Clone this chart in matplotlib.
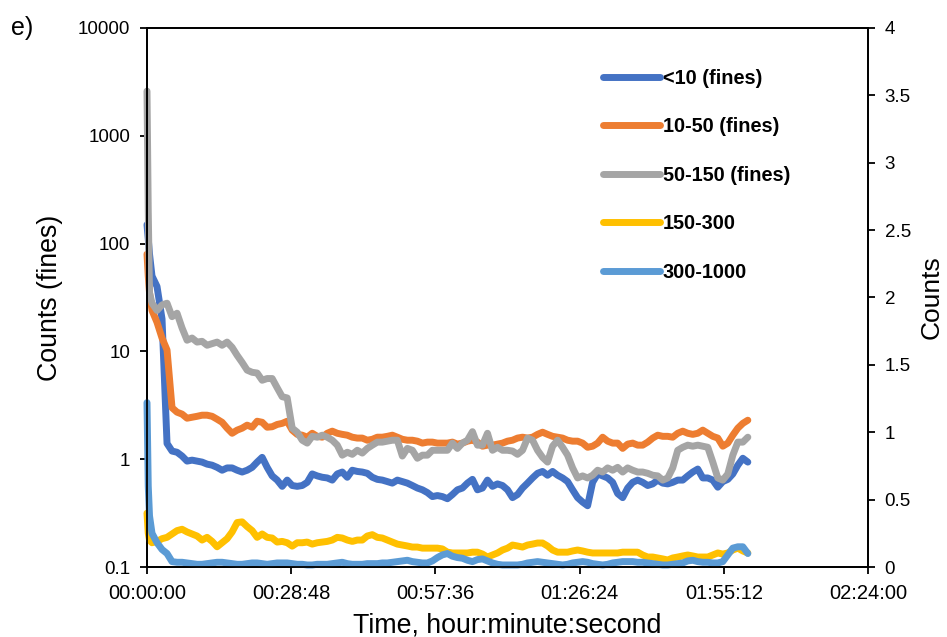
import numpy as np
import matplotlib
matplotlib.use("Agg")
import matplotlib.pyplot as plt
from matplotlib.ticker import FuncFormatter, NullLocator

plt.rcParams['font.family'] = ['Liberation Sans', 'DejaVu Sans']

# sample times in minutes (finer steps right after start-up)
minutes = [0, 0.25, 0.5] + list(range(1, 121))

# fines channels, plotted on the log axis
lt10 = [150, 110, 80, 50, 40, 20, 1.4, 1.19, 1.16, 1.07, 0.96, 0.98, 0.96, 0.94, 0.90, 0.88,
        0.84, 0.79, 0.83, 0.83, 0.79, 0.76, 0.79, 0.84, 0.94, 1.04, 0.84, 0.70, 0.64, 0.56,
        0.64, 0.57, 0.56, 0.57, 0.61, 0.73, 0.70, 0.68, 0.67, 0.64, 0.73, 0.76, 0.68, 0.79,
        0.77, 0.76, 0.74, 0.68, 0.65, 0.64, 0.62, 0.60, 0.64, 0.62, 0.60, 0.57, 0.54, 0.52,
        0.49, 0.45, 0.46, 0.45, 0.43, 0.47, 0.52, 0.54, 0.60, 0.65, 0.52, 0.54, 0.64, 0.56,
        0.59, 0.57, 0.52, 0.44, 0.47, 0.54, 0.60, 0.67, 0.74, 0.77, 0.71, 0.77, 0.71, 0.67,
        0.62, 0.52, 0.44, 0.40, 0.37, 0.61, 0.73, 0.70, 0.67, 0.61, 0.48, 0.44, 0.54, 0.61,
        0.64, 0.61, 0.57, 0.59, 0.64, 0.60, 0.59, 0.61, 0.64, 0.64, 0.70, 0.76, 0.81, 0.67,
        0.67, 0.64, 0.55, 0.62, 0.65, 0.73, 0.88, 1.02, 0.94]
s10_50 = [80, 50, 35, 24, 18.6, 13.3, 10.3, 3.0, 2.73, 2.62, 2.40, 2.45, 2.50, 2.56, 2.56,
          2.50, 2.35, 2.20, 1.94, 1.74, 1.86, 1.94, 2.07, 1.98, 2.25, 2.20, 1.98, 2.0, 2.1,
          2.15, 2.25, 1.86, 1.70, 1.67, 1.60, 1.74, 1.63, 1.60, 1.74, 1.82, 1.74, 1.70, 1.67,
          1.60, 1.57, 1.57, 1.50, 1.53, 1.60, 1.60, 1.63, 1.67, 1.60, 1.53, 1.50, 1.50, 1.47,
          1.41, 1.44, 1.44, 1.41, 1.41, 1.41, 1.44, 1.38, 1.41, 1.47, 1.50, 1.44, 1.32, 1.35,
          1.35, 1.38, 1.41, 1.47, 1.50, 1.57, 1.60, 1.57, 1.60, 1.70, 1.78, 1.70, 1.63, 1.60,
          1.57, 1.50, 1.47, 1.47, 1.41, 1.29, 1.32, 1.41, 1.60, 1.47, 1.41, 1.41, 1.26, 1.38,
          1.41, 1.35, 1.35, 1.44, 1.57, 1.67, 1.63, 1.63, 1.60, 1.74, 1.82, 1.74, 1.70, 1.74,
          1.86, 1.74, 1.63, 1.57, 1.32, 1.41, 1.67, 1.94, 2.15, 2.30]
s50_150 = [2600, 200, 35, 28, 24, 27, 28, 21, 22.6, 16.5, 12.7, 13.3, 12.2, 12.4, 11.4, 11.8,
           12.2, 11.4, 12.2, 10.9, 9.2, 7.9, 6.7, 6.4, 6.3, 5.4, 5.6, 5.6, 4.6, 3.8, 3.7,
           1.94, 1.78, 1.50, 1.41, 1.63, 1.60, 1.67, 1.60, 1.50, 1.35, 1.09, 1.16, 1.11, 1.21,
           1.14, 1.26, 1.35, 1.44, 1.44, 1.47, 1.50, 1.50, 1.07, 1.26, 1.21, 1.02, 1.09, 1.09,
           1.21, 1.21, 1.21, 1.21, 1.41, 1.26, 1.41, 1.50, 1.8, 1.35, 1.35, 1.74, 1.21, 1.29,
           1.21, 1.21, 1.19, 1.11, 1.21, 1.57, 1.50, 1.21, 1.04, 0.94, 1.32, 1.50, 1.29, 1.09,
           0.83, 0.67, 0.70, 0.67, 0.71, 0.79, 0.76, 0.83, 0.79, 0.84, 0.76, 0.83, 0.79, 0.76,
           0.76, 0.74, 0.71, 0.70, 0.64, 0.67, 0.83, 1.21, 1.29, 1.35, 1.32, 1.35, 1.32, 1.29,
           0.94, 0.67, 0.64, 0.73, 1.09, 1.44, 1.44, 1.60]

# coarse channels, plotted on the linear right axis
s150_300 = [0.40, 0.25, 0.20, 0.18, 0.19, 0.21, 0.22, 0.245, 0.27, 0.28, 0.26, 0.245, 0.23,
            0.20, 0.22, 0.19, 0.15, 0.18, 0.21, 0.26, 0.33, 0.335, 0.30, 0.27, 0.22, 0.245,
            0.22, 0.215, 0.185, 0.19, 0.18, 0.155, 0.18, 0.18, 0.185, 0.17, 0.18, 0.185, 0.19,
            0.20, 0.22, 0.215, 0.20, 0.19, 0.20, 0.20, 0.23, 0.24, 0.22, 0.215, 0.20, 0.185,
            0.17, 0.163, 0.156, 0.148, 0.148, 0.14, 0.14, 0.14, 0.14, 0.134, 0.11, 0.104,
            0.104, 0.104, 0.104, 0.11, 0.11, 0.096, 0.074, 0.089, 0.104, 0.126, 0.14, 0.163,
            0.156, 0.148, 0.163, 0.17, 0.178, 0.178, 0.156, 0.126, 0.11, 0.11, 0.11, 0.119,
            0.126, 0.119, 0.11, 0.104, 0.104, 0.104, 0.104, 0.104, 0.104, 0.11, 0.11, 0.11,
            0.11, 0.089, 0.074, 0.074, 0.067, 0.06, 0.052, 0.067, 0.074, 0.082, 0.089, 0.082,
            0.074, 0.074, 0.074, 0.089, 0.104, 0.096, 0.104, 0.126, 0.14, 0.119, 0.104]
s300_1000 = [1.22, 0.60, 0.38, 0.25, 0.18, 0.13, 0.10, 0.04, 0.035, 0.035, 0.03, 0.025, 0.02,
             0.02, 0.025, 0.03, 0.035, 0.035, 0.03, 0.025, 0.02, 0.02, 0.025, 0.03, 0.03,
             0.025, 0.02, 0.025, 0.03, 0.03, 0.03, 0.025, 0.02, 0.02, 0.015, 0.015, 0.02,
             0.02, 0.02, 0.025, 0.03, 0.035, 0.025, 0.02, 0.02, 0.02, 0.025, 0.025, 0.025,
             0.03, 0.03, 0.035, 0.04, 0.045, 0.05, 0.04, 0.035, 0.03, 0.03, 0.045, 0.07, 0.09,
             0.10, 0.08, 0.07, 0.065, 0.05, 0.04, 0.055, 0.06, 0.045, 0.03, 0.02, 0.015, 0.015,
             0.015, 0.015, 0.02, 0.03, 0.035, 0.04, 0.035, 0.03, 0.025, 0.02, 0.015, 0.02,
             0.03, 0.035, 0.04, 0.035, 0.025, 0.02, 0.015, 0.02, 0.03, 0.035, 0.04, 0.04, 0.04,
             0.035, 0.035, 0.03, 0.025, 0.02, 0.015, 0.015, 0.02, 0.025, 0.03, 0.045, 0.05,
             0.04, 0.035, 0.035, 0.03, 0.03, 0.04, 0.09, 0.14, 0.15, 0.15, 0.10]

left_labels = ['<10 (fines)', '10-50 (fines)', '50-150 (fines)']
right_labels = ['150-300', '300-1000']
colors = ['#4472C4', '#ED7D31', '#A5A5A5', '#FFC000', '#5B9BD5']

x_ticks = [0, 28.8, 57.6, 86.4, 115.2, 144]
left_ticks = [0.1, 1, 10, 100, 1000, 10000]
right_ticks = [0, 0.5, 1, 1.5, 2, 2.5, 3, 3.5, 4]

fig = plt.figure(figsize=(9.47, 6.37), dpi=100)
ax = fig.add_axes([147 / 947, 1 - 567 / 637, 721 / 947, 539 / 637])
ax2 = ax.twinx()

lw = 5
handles = []
for y, lab, c in zip([lt10, s10_50, s50_150], left_labels, colors[:3]):
    h, = ax.plot(minutes, y, color=c, lw=lw, label=lab, clip_on=False,
                 solid_joinstyle='round', solid_capstyle='round')
    handles.append(h)
for y, lab, c in zip([s150_300, s300_1000], right_labels, colors[3:]):
    h, = ax2.plot(minutes, y, color=c, lw=lw, label=lab, clip_on=False,
                  solid_joinstyle='round', solid_capstyle='round')
    handles.append(h)

ax.set_yscale('log')
ax.set_ylim(0.1, 10000)
ax.set_yticks(left_ticks, ['{:g}'.format(v) for v in left_ticks])
ax.yaxis.set_minor_locator(NullLocator())
ax.set_xlim(0, 144)
ax.set_xticks(x_ticks)


def hms(m, pos=None):
    s = int(round(m * 60))
    return '{:02d}:{:02d}:{:02d}'.format(s // 3600, (s % 3600) // 60, s % 60)


ax.xaxis.set_major_formatter(FuncFormatter(hms))

ax2.set_ylim(0, 4)
ax2.set_yticks(right_ticks, ['{:g}'.format(v) for v in right_ticks])

for a in (ax, ax2):
    for sp in a.spines.values():
        sp.set_linewidth(1.3)
        sp.set_color('black')
    a.tick_params(direction='out', length=5, width=1.3, labelsize=13.5, pad=7)
ax.tick_params(axis='x', labelsize=14.5)

ax.set_ylabel('Counts (fines)', fontsize=19.3, labelpad=11)
ax2.set_ylabel('Counts', fontsize=19, labelpad=6)
ax.set_xlabel('Time, hour:minute:second', fontsize=19.3, labelpad=7)

fig.text(11 / 947, 1 - 28 / 637, 'e)', fontsize=18, va='center', ha='left')

leg = ax.legend(handles=handles, loc='upper left',
                bbox_to_anchor=(603 / 947, 1 - 69 / 637), bbox_transform=fig.transFigure,
                frameon=False, prop={'weight': 'bold', 'size': 14.3},
                handlelength=2.87, handletextpad=0.15, labelspacing=1.48,
                borderpad=0, borderaxespad=0)

fig.savefig('out.png', dpi=100)
